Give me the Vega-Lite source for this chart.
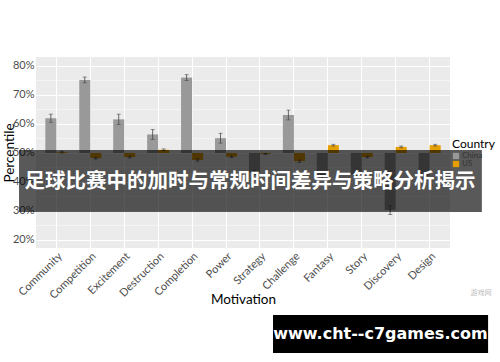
{
  "$schema": "https://vega.github.io/schema/vega-lite/v6.json",
  "width": 414,
  "height": 191,
  "autosize": {"type": "none"},
  "padding": {"left": 36, "top": 57, "right": 50, "bottom": 114},
  "background": "white",
  "config": {
    "view": {"stroke": null, "fill": "#EBEBEB"},
    "font": "Lato",
    "axis": {"labelFont": "Lato", "titleFont": "Lato", "titleFontWeight": "normal"},
    "legend": {"labelFont": "Lato", "titleFont": "Lato", "titleFontWeight": "normal"}
  },
  "datasets": {
    "bars": [
      {"Motivation": "Community", "Country": "China", "value": 0.620, "lo": 0.606, "hi": 0.634},
      {"Motivation": "Community", "Country": "US", "value": 0.503, "lo": 0.500, "hi": 0.506},
      {"Motivation": "Competition", "Country": "China", "value": 0.752, "lo": 0.742, "hi": 0.762},
      {"Motivation": "Competition", "Country": "US", "value": 0.482, "lo": 0.479, "hi": 0.485},
      {"Motivation": "Excitement", "Country": "China", "value": 0.616, "lo": 0.598, "hi": 0.634},
      {"Motivation": "Excitement", "Country": "US", "value": 0.486, "lo": 0.483, "hi": 0.489},
      {"Motivation": "Destruction", "Country": "China", "value": 0.564, "lo": 0.547, "hi": 0.581},
      {"Motivation": "Destruction", "Country": "US", "value": 0.511, "lo": 0.508, "hi": 0.514},
      {"Motivation": "Completion", "Country": "China", "value": 0.760, "lo": 0.750, "hi": 0.770},
      {"Motivation": "Completion", "Country": "US", "value": 0.476, "lo": 0.472, "hi": 0.480},
      {"Motivation": "Power", "Country": "China", "value": 0.551, "lo": 0.534, "hi": 0.568},
      {"Motivation": "Power", "Country": "US", "value": 0.487, "lo": 0.484, "hi": 0.490},
      {"Motivation": "Strategy", "Country": "China", "value": 0.433, "lo": 0.426, "hi": 0.440},
      {"Motivation": "Strategy", "Country": "US", "value": 0.497, "lo": 0.495, "hi": 0.499},
      {"Motivation": "Challenge", "Country": "China", "value": 0.631, "lo": 0.614, "hi": 0.648},
      {"Motivation": "Challenge", "Country": "US", "value": 0.472, "lo": 0.468, "hi": 0.476},
      {"Motivation": "Fantasy", "Country": "China", "value": 0.420, "lo": 0.413, "hi": 0.427},
      {"Motivation": "Fantasy", "Country": "US", "value": 0.527, "lo": 0.524, "hi": 0.530},
      {"Motivation": "Story", "Country": "China", "value": 0.425, "lo": 0.418, "hi": 0.432},
      {"Motivation": "Story", "Country": "US", "value": 0.486, "lo": 0.483, "hi": 0.489},
      {"Motivation": "Discovery", "Country": "China", "value": 0.303, "lo": 0.288, "hi": 0.318},
      {"Motivation": "Discovery", "Country": "US", "value": 0.521, "lo": 0.518, "hi": 0.524},
      {"Motivation": "Design", "Country": "China", "value": 0.420, "lo": 0.413, "hi": 0.427},
      {"Motivation": "Design", "Country": "US", "value": 0.527, "lo": 0.524, "hi": 0.530}
    ]
  },
  "layer": [
    {
      "data": {"name": "bars"},
      "encoding": {
        "x": {
          "field": "Motivation",
          "type": "nominal",
          "sort": ["Community", "Competition", "Excitement", "Destruction", "Completion", "Power", "Strategy", "Challenge", "Fantasy", "Story", "Discovery", "Design"],
          "scale": {"paddingInner": 0.35, "paddingOuter": 0.275},
          "axis": {
            "title": "Motivation",
            "titleFontSize": 13.5,
            "titleColor": "#000000",
            "titleY": 55,
            "titleBaseline": "alphabetic",
            "labelAngle": -45,
            "labelAlign": "right",
            "labelBaseline": "top",
            "labelFontSize": 11,
            "labelColor": "#4d4d4d",
            "labelPadding": 2,
            "ticks": false,
            "domain": false,
            "grid": true,
            "gridColor": "#ffffff",
            "gridWidth": 1,
            "bandPosition": 0.5
          }
        },
        "xOffset": {"field": "Country", "type": "nominal", "sort": ["China", "US"]}
      },
      "layer": [
        {
          "mark": {"type": "bar"},
          "encoding": {
            "y": {
              "field": "value",
              "type": "quantitative",
              "scale": {"domain": [0.1724, 0.831], "nice": false, "zero": false},
              "axis": {
                "title": "Percentile",
                "titleFontSize": 13.5,
                "titleColor": "#000000",
                "titleX": -23,
                "titleY": 95.5,
                "titleAngle": -90,
                "titleAlign": "center",
                "titleBaseline": "alphabetic",
                "values": [0.2, 0.3, 0.4, 0.5, 0.6, 0.7, 0.8],
                "format": ".0%",
                "labelOverlap": false,
                "labelFontSize": 11,
                "labelColor": "#4d4d4d",
                "labelPadding": 2,
                "ticks": false,
                "domain": false,
                "grid": true,
                "gridColor": "#ffffff",
                "gridWidth": 1
              }
            },
            "y2": {"datum": 0.5},
            "color": {
              "field": "Country",
              "type": "nominal",
              "scale": {"domain": ["China", "US"], "range": ["#999999", "#E69F00"]},
              "legend": {
                "title": "Country",
                "orient": "none",
                "legendX": 416,
                "legendY": 82,
                "titleFontSize": 12,
                "titleColor": "#000000",
                "titlePadding": 1,
                "labelFontSize": 8,
                "labelColor": "#333333",
                "labelOffset": 2,
                "symbolType": "square",
                "symbolSize": 40,
                "symbolStrokeWidth": 0,
                "rowPadding": 0
              }
            }
          }
        },
        {
          "mark": {"type": "rule", "color": "#444444", "strokeWidth": 0.8},
          "encoding": {
            "y": {
              "field": "lo",
              "type": "quantitative",
              "scale": {"domain": [0.1724, 0.831], "nice": false, "zero": false},
              "axis": {
                "title": null,
                "values": [0.25, 0.35, 0.45, 0.55, 0.65, 0.75],
                "labels": false,
                "ticks": false,
                "domain": false,
                "grid": true,
                "gridColor": "#ffffff",
                "gridWidth": 0.5
              }
            },
            "y2": {"field": "hi"}
          }
        },
        {
          "mark": {"type": "tick", "color": "#444444", "thickness": 0.8, "size": 4, "orient": "horizontal"},
          "encoding": {
            "y": {"field": "lo", "type": "quantitative", "scale": {"domain": [0.1724, 0.831], "nice": false, "zero": false}, "axis": null}
          }
        },
        {
          "mark": {"type": "tick", "color": "#444444", "thickness": 0.8, "size": 4, "orient": "horizontal"},
          "encoding": {
            "y": {"field": "hi", "type": "quantitative", "scale": {"domain": [0.1724, 0.831], "nice": false, "zero": false}, "axis": null}
          }
        }
      ],
      "resolve": {"axis": {"y": "independent"}}
    },
    {
      "data": {"values": [{}]},
      "layer": [
        {
          "mark": {"type": "rect", "color": "#000000", "opacity": 0.65},
          "encoding": {
            "x": {"datum": -0.041, "type": "quantitative", "scale": {"domain": [0, 1], "nice": false, "zero": false}, "axis": null},
            "x2": {"datum": 1.077},
            "y": {"datum": 0.510, "type": "quantitative", "scale": {"domain": [0.1724, 0.831], "nice": false, "zero": false}, "axis": null},
            "y2": {"datum": 0.2966}
          }
        },
        {
          "mark": {"type": "text", "text": "足球比赛中的加时与常规时间差异与策略分析揭示", "font": "Noto Sans CJK SC", "fontWeight": "bold", "fontSize": 20.5, "color": "#ffffff", "align": "center", "baseline": "middle"},
          "encoding": {
            "x": {"datum": 0.517, "type": "quantitative", "scale": {"domain": [0, 1], "nice": false, "zero": false}, "axis": null},
            "y": {"datum": 0.40, "type": "quantitative", "scale": {"domain": [0.1724, 0.831], "nice": false, "zero": false}, "axis": null}
          }
        },
        {
          "mark": {"type": "rect", "color": "#000000", "opacity": 1},
          "encoding": {
            "x": {"datum": 0.5725, "type": "quantitative", "scale": {"domain": [0, 1], "nice": false, "zero": false}, "axis": null},
            "x2": {"datum": 1.092},
            "y": {"datum": -0.0586, "type": "quantitative", "scale": {"domain": [0.1724, 0.831], "nice": false, "zero": false}, "axis": null},
            "y2": {"datum": -0.1897}
          }
        },
        {
          "mark": {"type": "text", "text": "www.cht--c7games.com", "font": "DejaVu Sans", "fontWeight": "bold", "fontSize": 16, "color": "#ffffff", "align": "center", "baseline": "middle"},
          "encoding": {
            "x": {"datum": 0.832, "type": "quantitative", "scale": {"domain": [0, 1], "nice": false, "zero": false}, "axis": null},
            "y": {"datum": -0.124, "type": "quantitative", "scale": {"domain": [0.1724, 0.831], "nice": false, "zero": false}, "axis": null}
          }
        },
        {
          "mark": {"type": "text", "text": "游戏网", "font": "Noto Sans CJK SC", "fontSize": 7, "color": "#bbbbbb", "align": "center", "baseline": "middle"},
          "encoding": {
            "x": {"datum": 1.075, "type": "quantitative", "scale": {"domain": [0, 1], "nice": false, "zero": false}, "axis": null},
            "y": {"datum": 0.017, "type": "quantitative", "scale": {"domain": [0.1724, 0.831], "nice": false, "zero": false}, "axis": null}
          }
        }
      ]
    }
  ],
  "resolve": {"scale": {"x": "independent"}, "axis": {"x": "independent", "y": "independent"}}
}
